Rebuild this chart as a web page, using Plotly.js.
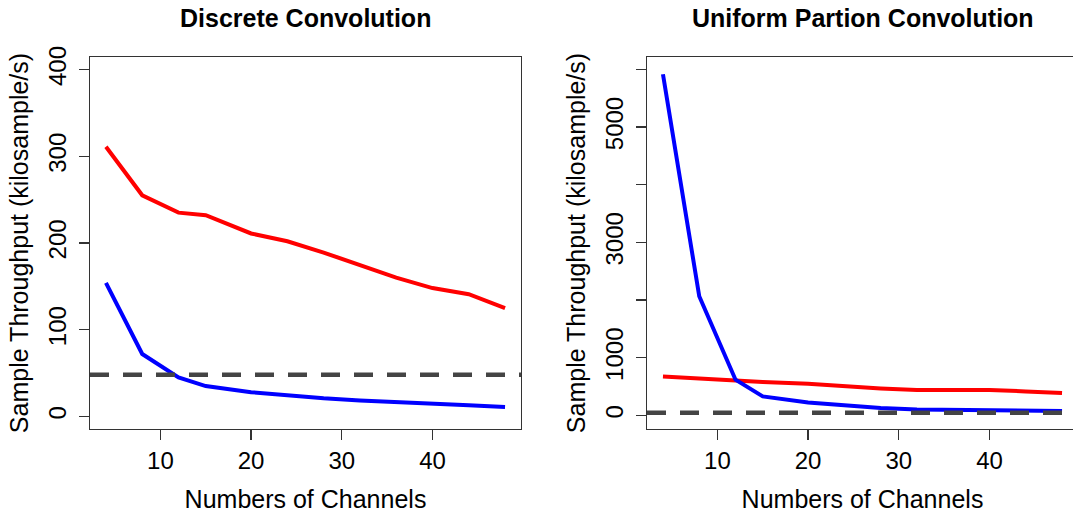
<!DOCTYPE html>
<html>
<head>
<meta charset="utf-8">
<script src="https://cdn.plot.ly/plotly-3.0.1.min.js"></script>
<style>
  html, body { margin: 0; padding: 0; overflow: hidden; background: #ffffff; }
  #chart { width: 1080px; height: 513px; }
</style>
</head>
<body>
<div id="chart"></div>
<script>
// ---- data ----
const channels = [4, 8, 12, 15, 20, 24, 28, 32, 36, 40, 44, 48];

// Discrete Convolution (kilosample/s)
const discreteRed  = [311, 255, 235, 232, 211, 202, 189, 174, 160, 148, 141, 125];
const discreteBlue = [154, 72, 45, 35, 28, 24, 21, 18.5, 17, 15, 13, 11];

// Uniform Partion Convolution (kilosample/s)
const uniformRed  = [675, 637, 608, 580, 550, 503, 469, 441, 441, 441, 417, 389];
const uniformBlue = [5915, 2066, 620, 330, 226, 174, 128, 105, 95, 88, 82, 76];

// reference real-time rate (48 kHz)
const realtimeRate = 48;

const xTicks = [10, 20, 30, 40];
const leftYTicks = [0, 100, 200, 300, 400];
const rightYTicks = [0, 1000, 2000, 3000, 4000, 5000, 6000];
const rightYLabels = ['0', '1000', '', '3000', '', '5000', ''];

const titles = ['Discrete Convolution', 'Uniform Partion Convolution'];
const xTitle = 'Numbers of Channels';
const yTitle = 'Sample Throughput (kilosample/s)';

// ---- layout helpers ----
const W = 1080, H = 513;
const FONT = 'Liberation Sans, Arial, Helvetica, sans-serif';
const AX = '#333333';
const leftBox = [90, 521], rightBox = [647, 1078];
const boxTop = 57, boxBottom = 429;
const ydom = [(H - boxBottom) / H, (H - boxTop) / H];

function xaxisCfg(box, anchor) {
  return {
    domain: [box[0] / W, box[1] / W], anchor: anchor,
    range: [2.24, 49.76], tickvals: xTicks, ticks: 'outside', ticklen: 10,
    tickwidth: 1.3, tickcolor: AX, showline: true, mirror: true, linecolor: AX,
    linewidth: 1.3, showgrid: false, zeroline: false,
    tickfont: { family: FONT, size: 24, color: '#000' },
    title: { text: xTitle, font: { family: FONT, size: 25, color: '#000' }, standoff: 18 }
  };
}
function yaxisCfg(range, tv, tt, anchor) {
  const c = {
    domain: ydom, anchor: anchor, range: range, tickvals: tv, ticks: 'outside',
    ticklen: 10, tickwidth: 1.3, tickcolor: AX, showline: true, mirror: true,
    linecolor: AX, linewidth: 1.3, showgrid: false, zeroline: false, tickangle: -90,
    ticklabelstandoff: 3,
    tickfont: { family: FONT, size: 24, color: '#000' },
    title: { text: yTitle, font: { family: FONT, size: 25, color: '#000' }, standoff: 8 }
  };
  if (tt) c.ticktext = tt;
  return c;
}

const lineRed = { color: '#ff0000', width: 4 };
const lineBlue = { color: '#0000ff', width: 4 };

const traces = [
  { x: channels, y: discreteRed, mode: 'lines', line: lineRed, xaxis: 'x', yaxis: 'y', name: 'red' },
  { x: channels, y: discreteBlue, mode: 'lines', line: lineBlue, xaxis: 'x', yaxis: 'y', name: 'blue' },
  { x: channels, y: uniformRed, mode: 'lines', line: lineRed, xaxis: 'x2', yaxis: 'y2', name: 'red' },
  { x: channels, y: uniformBlue, mode: 'lines', line: lineBlue, xaxis: 'x2', yaxis: 'y2', name: 'blue' }
];

const dashLine = { color: '#444444', width: 4.5, dash: '19px,14px' };
const shapes = [
  { type: 'line', xref: 'x domain', yref: 'y', x0: 0, x1: 1, y0: realtimeRate, y1: realtimeRate, line: dashLine, layer: 'above' },
  { type: 'line', xref: 'x2 domain', yref: 'y2', x0: 0, x1: 1, y0: realtimeRate, y1: realtimeRate, line: dashLine, layer: 'above' }
];

const annotations = [
  { text: '<b>' + titles[0] + '</b>', xref: 'paper', yref: 'paper',
    x: (leftBox[0] + leftBox[1]) / 2 / W, y: 1 - 18 / H, xanchor: 'center', yanchor: 'middle',
    showarrow: false, font: { family: FONT, size: 25, color: '#000' } },
  { text: '<b>' + titles[1] + '</b>', xref: 'paper', yref: 'paper',
    x: (rightBox[0] + rightBox[1]) / 2 / W, y: 1 - 18 / H, xanchor: 'center', yanchor: 'middle',
    showarrow: false, font: { family: FONT, size: 25, color: '#000' } }
];

const layout = {
  width: W, height: H,
  margin: { l: 0, r: 0, t: 0, b: 0 },
  paper_bgcolor: '#ffffff', plot_bgcolor: '#ffffff',
  showlegend: false,
  xaxis: xaxisCfg(leftBox, 'y'),
  yaxis: yaxisCfg([-14.5, 414.5], leftYTicks, null, 'x'),
  xaxis2: xaxisCfg(rightBox, 'y2'),
  yaxis2: yaxisCfg([-235, 6215], rightYTicks, rightYLabels, 'x2'),
  shapes: shapes,
  annotations: annotations
};

Plotly.newPlot('chart', traces, layout, { staticPlot: true, displayModeBar: false });
</script>
</body>
</html>
